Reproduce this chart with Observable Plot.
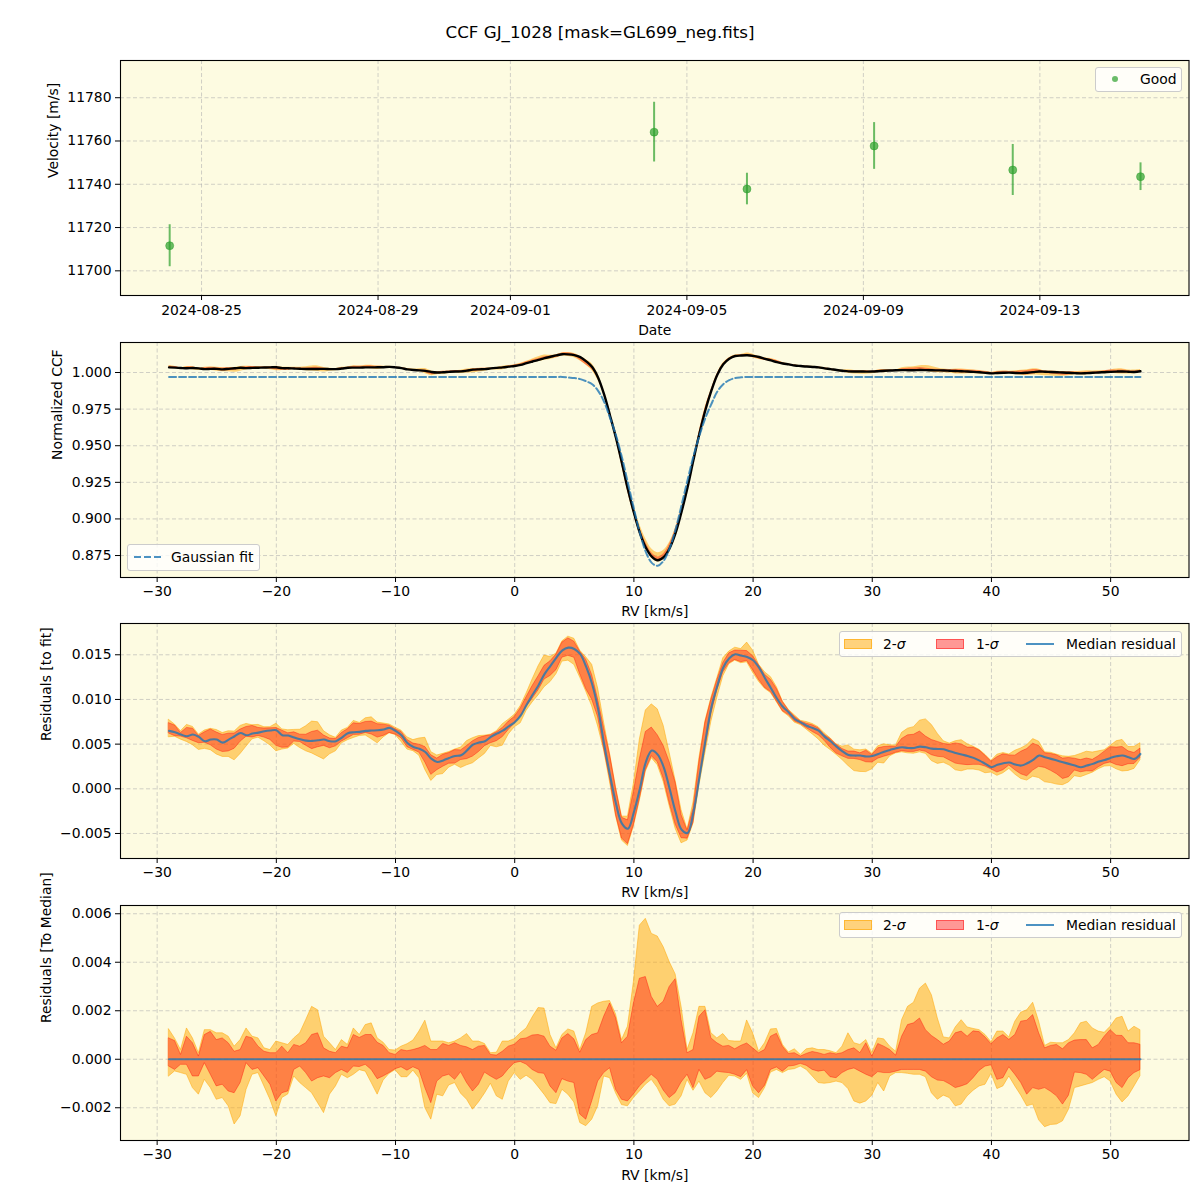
<!DOCTYPE html>
<html><head><meta charset="utf-8">
<script src="https://cdn.jsdelivr.net/npm/d3@7"></script>
<script src="https://cdn.jsdelivr.net/npm/@observablehq/plot@0.6"></script>
<style>
html,body{margin:0;padding:0;background:#fff;}
#fig{position:relative;width:1200px;height:1200px;font-family:"DejaVu Sans",sans-serif;color:#000;overflow:hidden;background:#fff;}
#fig > svg{position:absolute;left:0;}
.title{position:absolute;top:21px;left:0;width:1200px;text-align:center;font-size:16.7px;line-height:22px;}
.lg{position:absolute;background:rgba(255,255,255,0.8);border:1px solid #cccccc;border-radius:3px;box-sizing:border-box;}
.lt{position:absolute;font-size:13.9px;line-height:16px;white-space:nowrap;}
.sw{position:absolute;box-sizing:border-box;}
</style></head>
<body><div id="fig"><div class="title">CCF GJ_1028 [mask=GL699_neg.fits]</div></div>
<script>
// ---------- Panel 1: RV time series ----------
const obsDates = ["2024-08-24T06:40Z","2024-09-04T06:10Z","2024-09-06T08:40Z","2024-09-09T05:50Z","2024-09-12T09:15Z","2024-09-15T06:45Z"];
const obsVel = [11711.6, 11764.1, 11737.8, 11757.7, 11746.6, 11743.5];
const obsErr = [9.7, 13.8, 7.3, 10.8, 11.8, 6.4];
const dateTicks = ["2024-08-25","2024-08-29","2024-09-01","2024-09-05","2024-09-09","2024-09-13"];
const velTicks = [11700, 11720, 11740, 11760, 11780];

// ---------- RV grid (km/s) ----------
const rv = [
-29,-28.5,-28,-27.5,-27,-26.5,-26,-25.5,-25,-24.5,
-24,-23.5,-23,-22.5,-22,-21.5,-21,-20.5,-20,-19.5,
-19,-18.5,-18,-17.5,-17,-16.5,-16,-15.5,-15,-14.5,
-14,-13.5,-13,-12.5,-12,-11.5,-11,-10.5,-10,-9.5,
-9,-8.5,-8,-7.5,-7,-6.5,-6,-5.5,-5,-4.5,
-4,-3.5,-3,-2.5,-2,-1.5,-1,-0.5,0,0.5,
1,1.5,2,2.5,3,3.5,4,4.5,5,5.5,
6,6.5,7,7.5,8,8.5,9,9.5,10,10.5,
11,11.5,12,12.5,13,13.5,14,14.5,15,15.5,
16,16.5,17,17.5,18,18.5,19,19.5,20,20.5,
21,21.5,22,22.5,23,23.5,24,24.5,25,25.5,
26,26.5,27,27.5,28,28.5,29,29.5,30,30.5,
31,31.5,32,32.5,33,33.5,34,34.5,35,35.5,
36,36.5,37,37.5,38,38.5,39,39.5,40,40.5,
41,41.5,42,42.5,43,43.5,44,44.5,45,45.5,
46,46.5,47,47.5,48,48.5,49,49.5,50,50.5,
51,51.5,52,52.5];

// Gaussian fit (normalized CCF)
const gaussFit = [
0.997,0.997,0.997,0.997,0.997,0.997,0.997,0.997,0.997,0.997,
0.997,0.997,0.997,0.997,0.997,0.997,0.997,0.997,0.997,0.997,
0.997,0.997,0.997,0.997,0.997,0.997,0.997,0.997,0.997,0.997,
0.997,0.997,0.997,0.997,0.997,0.997,0.997,0.997,0.997,0.997,
0.997,0.997,0.997,0.997,0.997,0.997,0.997,0.997,0.997,0.997,
0.997,0.997,0.997,0.997,0.997,0.997,0.997,0.997,0.997,0.997,
0.997,0.997,0.997,0.997,0.997,0.997,0.997,0.9966,0.9962,0.9955,
0.9940,0.9920,0.9875,0.9800,0.9690,0.9570,0.9420,0.9245,0.9070,0.8905,
0.8775,0.8700,0.8680,0.8715,0.8800,0.8930,0.9095,0.9265,0.9430,0.9570,
0.9690,0.9785,0.9870,0.9920,0.9948,0.9962,0.9967,0.997,0.997,0.997,
0.997,0.997,0.997,0.997,0.997,0.997,0.997,0.997,0.997,0.997,
0.997,0.997,0.997,0.997,0.997,0.997,0.997,0.997,0.997,0.997,
0.997,0.997,0.997,0.997,0.997,0.997,0.997,0.997,0.997,0.997,
0.997,0.997,0.997,0.997,0.997,0.997,0.997,0.997,0.997,0.997,
0.997,0.997,0.997,0.997,0.997,0.997,0.997,0.997,0.997,0.997,
0.997,0.997,0.997,0.997,0.997,0.997,0.997,0.997,0.997,0.997,
0.997,0.997,0.997,0.997];

// Median residual to fit (x1e-3)
const resMed = [
6.48,6.33,6.07,5.88,6.07,5.81,5.32,5.51,5.51,5.17,
5.51,5.88,6.25,5.99,6.18,6.29,6.44,6.52,6.55,5.99,
5.96,5.73,5.54,5.39,5.36,5.43,5.51,5.32,5.32,5.73,
6.22,6.33,6.37,6.48,6.52,6.55,6.63,6.82,6.48,5.99,
5.13,4.68,4.49,4.12,3.37,3.00,3.18,3.45,3.67,3.75,
4.30,4.94,5.17,5.32,5.81,6.18,6.50,7.00,7.45,8.18,
9.41,10.52,11.60,12.83,13.75,14.68,15.50,15.80,15.65,15.06,
13.64,11.71,8.92,5.02,1.49,-1.67,-3.90,-4.46,-2.60,0.00,
2.97,4.28,3.83,2.42,0.00,-2.60,-4.57,-4.94,-2.60,1.30,
5.39,9.11,11.52,13.57,14.61,15.06,14.91,14.76,14.39,13.57,
12.38,11.26,10.11,9.18,8.55,7.81,7.43,7.06,6.80,6.51,
5.84,5.32,4.72,4.20,3.79,3.72,3.72,3.61,3.68,3.90,
4.16,4.35,4.54,4.65,4.57,4.57,4.72,4.65,4.50,4.46,
4.42,4.20,4.01,3.83,3.68,3.46,3.16,2.79,2.42,2.68,
2.86,2.94,2.71,2.60,2.86,3.23,3.72,3.53,3.35,3.16,
2.97,2.79,2.60,2.42,2.60,2.79,3.05,3.23,3.46,3.64,
3.72,3.53,3.35,3.90];

// Percentile offsets relative to the median (x1e-3)
const hi2 = [
1.23,0.85,0.38,1.27,0.86,0.25,1.20,1.20,1.07,1.07,
0.93,0.52,0.79,1.27,0.93,0.86,0.45,0.38,0.73,0.66,
0.59,0.86,1.07,1.61,2.16,2.02,0.93,0.66,0.38,0.79,
0.59,1.27,1.00,1.41,1.48,0.86,0.68,0.38,0.36,0.52,
0.62,0.77,1.14,1.59,0.73,0.73,0.73,0.66,0.73,0.86,
1.04,0.73,0.73,0.63,0.25,0.27,0.73,0.73,0.83,1.07,
1.27,1.72,2.11,2.09,1.00,0.45,1.00,1.23,1.14,0.38,
1.07,2.16,2.30,2.37,2.40,1.85,0.79,1.34,3.19,5.51,
5.79,5.17,5.06,4.62,4.01,3.50,2.16,0.38,1.07,2.16,
2.16,1.07,0.86,1.04,0.75,0.73,0.73,1.60,1.07,0.31,
0.66,1.23,1.25,0.59,0.28,0.41,0.18,0.41,0.45,0.38,
0.38,0.33,0.25,0.52,1.07,0.66,0.59,0.79,0.25,0.86,
0.82,0.52,0.31,1.61,2.16,2.33,2.91,3.12,2.64,1.68,
0.90,0.86,1.31,1.61,1.31,1.25,1.20,1.00,0.70,1.14,
1.14,0.90,1.55,1.92,2.02,2.33,1.55,0.55,0.68,0.66,
0.66,0.79,1.07,1.48,1.55,1.27,1.14,1.09,1.34,1.68,
1.75,1.14,1.34,1.20];
const hi1 = [
0.86,0.75,0.18,0.93,0.66,0.11,1.00,1.13,0.79,0.86,
0.66,0.31,0.38,0.93,0.86,0.52,0.31,0.25,0.25,0.52,
0.25,0.59,0.52,0.66,1.00,1.07,0.45,0.31,0.25,0.52,
0.45,1.00,0.88,1.00,1.00,0.68,0.55,0.25,0.18,0.38,
0.33,0.38,0.45,0.55,0.38,0.38,0.63,0.55,0.66,0.55,
0.49,0.38,0.52,0.55,0.18,0.15,0.31,0.52,0.60,0.82,
0.86,0.98,1.00,0.93,0.52,0.35,0.86,1.04,0.82,0.27,
0.79,1.00,1.07,1.75,2.30,1.70,0.66,0.93,2.30,3.32,
3.39,2.57,2.16,2.37,2.98,3.30,1.61,0.25,0.38,1.75,
2.02,0.86,0.66,0.52,0.55,0.41,0.55,0.65,0.45,0.25,
0.38,0.93,1.05,0.52,0.22,0.25,0.11,0.22,0.30,0.25,
0.18,0.25,0.20,0.25,0.38,0.45,0.25,0.66,0.11,0.63,
0.52,0.38,0.15,0.93,1.41,1.48,1.68,1.20,0.96,0.79,
0.60,0.73,1.07,1.14,0.93,1.15,1.12,0.90,0.62,0.86,
1.00,0.80,1.00,1.55,1.59,1.82,1.07,0.45,0.55,0.59,
0.41,0.66,0.77,0.79,0.79,0.45,0.59,0.93,1.20,0.97,
0.96,0.66,0.66,0.60];
const lo1 = [
-0.30,-0.44,-0.23,-0.23,-0.71,-0.71,-0.16,-0.64,-1.12,-1.05,
-1.33,-1.40,-0.98,-0.16,-0.44,-0.37,-0.71,-1.05,-1.74,-1.40,
-1.33,-0.44,-0.30,-0.57,-0.92,-0.78,-0.71,-0.78,-0.57,-0.44,
-0.57,-0.30,-0.32,-0.23,-0.44,-0.82,-0.71,-0.57,-0.41,-0.33,
-0.47,-0.33,-0.44,-1.19,-1.81,-0.92,-0.71,-0.64,-0.85,-0.53,
-0.98,-1.33,-1.05,-0.55,-0.71,-0.85,-0.71,-0.41,-0.16,-0.11,
-0.22,-0.44,-0.57,-0.60,-1.12,-1.40,-0.82,-0.92,-0.98,-2.28,
-2.49,-1.74,-0.92,-0.57,-0.37,-1.26,-1.67,-1.74,-1.45,-1.12,
-0.88,-0.64,-0.85,-1.29,-1.60,-1.40,-0.96,-0.64,-1.19,-0.44,
-0.85,-0.74,-0.51,-0.55,-0.57,-0.64,-0.74,-0.45,-1.12,-1.40,
-1.09,-0.44,-0.34,-0.51,-0.30,-0.27,-0.19,-0.27,-0.44,-0.51,
-0.47,-0.74,-0.78,-0.57,-0.44,-0.38,-0.51,-0.64,-0.74,-0.53,
-0.57,-0.57,-0.51,-0.44,-0.44,-0.44,-0.44,-0.51,-0.74,-0.88,
-0.90,-1.03,-1.19,-1.12,-1.03,-0.78,-0.48,-0.30,-0.25,-0.85,
-0.78,-0.33,-0.64,-0.98,-1.46,-1.19,-1.26,-1.19,-1.34,-1.53,
-1.87,-1.50,-0.55,-0.57,-0.64,-0.85,-0.64,-0.44,-0.51,-0.98,
-1.19,-0.78,-0.57,-0.45];
const lo2 = [
-0.71,-0.50,-0.57,-0.64,-1.19,-1.46,-0.85,-1.19,-1.67,-1.60,
-1.94,-2.69,-2.35,-1.26,-0.64,-0.57,-1.12,-1.67,-2.35,-1.60,
-1.45,-0.71,-0.98,-1.19,-1.40,-1.81,-2.22,-1.46,-1.12,-0.64,
-0.78,-0.64,-0.45,-0.51,-0.98,-1.46,-0.88,-0.60,-0.45,-0.74,
-0.74,-0.47,-0.78,-2.01,-2.49,-1.46,-1.53,-1.08,-0.98,-1.42,
-1.67,-2.08,-1.78,-1.42,-1.01,-1.53,-1.67,-0.92,-0.57,-0.85,
-0.68,-0.85,-1.15,-1.46,-1.81,-1.85,-1.26,-1.46,-1.78,-2.63,
-2.76,-2.49,-1.94,-0.71,-0.78,-1.40,-1.89,-1.94,-1.60,-1.33,
-1.05,-0.85,-1.19,-1.67,-1.94,-1.87,-1.53,-0.85,-1.30,-0.92,
-1.40,-1.60,-1.33,-0.98,-0.68,-0.71,-0.85,-0.60,-1.40,-1.60,
-1.19,-0.55,-0.44,-0.57,-0.44,-0.41,-0.30,-0.44,-0.71,-0.98,
-1.01,-0.98,-0.92,-0.98,-1.23,-1.74,-1.83,-1.74,-1.50,-0.98,
-1.33,-0.71,-0.57,-0.57,-0.60,-0.64,-0.64,-0.74,-1.40,-1.67,
-1.50,-1.60,-1.94,-1.87,-1.53,-1.30,-1.12,-1.05,-0.60,-1.23,
-1.12,-0.71,-1.12,-1.50,-1.94,-1.87,-2.52,-2.80,-2.71,-2.69,
-2.56,-2.08,-1.19,-1.12,-1.05,-0.98,-0.85,-0.74,-0.92,-1.46,
-1.78,-1.53,-1.12,-0.70];

const rvTicks = [-30,-20,-10,0,10,20,30,40,50];
const ccfTicks = [0.875,0.900,0.925,0.950,0.975,1.000];
const resTicks = [-0.005,0,0.005,0.010,0.015];
const medTicks = [-0.002,0,0.002,0.004,0.006];

// ---------- build tables ----------
const obs = obsDates.map((d,i)=>({date:new Date(d), v:obsVel[i], e:obsErr[i]}));
const rows = rv.map((v,i)=>{
  const med = resMed[i]/1000;
  const ccf = gaussFit[i] + med; // CCF median = fit + median residual
  return {rv:v, fit:gaussFit[i], med, ccf,
    lo2:lo2[i]/1000, lo1:lo1[i]/1000, hi1:hi1[i]/1000, hi2:hi2[i]/1000};
});

const BG = "#fdfbe1", GRID = "#b0b0b0";
const fig = document.getElementById("fig");
const fmt3 = d3.format(".3f");

function panel({top, x, y, xTicks, yTicks, xFmt, yFmt, marks, xlabel, ylabel, ylabelDx, xlabelDy, tickPad}) {
  const mt = 10, mb = 45, h = 235;
  const chart = Plot.plot({
    width: 1200, height: h + mt + mb,
    marginLeft: 120, marginRight: 11.5, marginTop: mt, marginBottom: mb,
    style: {background: "transparent", fontFamily: "DejaVu Sans", fontSize: "13.9px", color: "#000", overflow: "visible"},
    x: {...x, label: null},
    y: {...y, label: null},
    marks: [
      Plot.frame({fill: BG, stroke: null}),
      Plot.gridX(xTicks, {stroke: GRID, strokeOpacity: 0.65, strokeDasharray: "4,2.5", strokeWidth: 0.9}),
      Plot.gridY(yTicks, {stroke: GRID, strokeOpacity: 0.65, strokeDasharray: "4,2.5", strokeWidth: 0.9}),
      ...marks,
      Plot.frame({stroke: "#000", strokeWidth: 1.1}),
      Plot.axisX(xTicks, {tickFormat: xFmt, tickSize: 5, tickPadding: tickPad, label: null}),
      Plot.axisY(yTicks, {tickFormat: yFmt, tickSize: 5, tickPadding: 4, label: null}),
      Plot.text([xlabel], {frameAnchor: "bottom", dy: xlabelDy}),
      Plot.text([ylabel], {frameAnchor: "left", rotate: -90, dx: ylabelDx})
    ]
  });
  chart.style.top = (top - mt) + "px";
  fig.appendChild(chart);
}

// Panel 1
panel({
  top: 60,
  x: {type: "utc", domain: [new Date("2024-08-23T03:55Z"), new Date("2024-09-16T09:07Z")]},
  y: {domain: [11688.6, 11797.2]},
  xTicks: dateTicks.map(d => new Date(d + "T00:00Z")), yTicks: velTicks,
  xFmt: d3.utcFormat("%Y-%m-%d"), yFmt: d3.format("d"),
  marks: [
    Plot.ruleX(obs, {x: "date", y1: d => d.v - d.e, y2: d => d.v + d.e, stroke: "#2ca02c", strokeOpacity: 0.7, strokeWidth: 2}),
    Plot.dot(obs, {x: "date", y: "v", r: 4, fill: "#2ca02c", fillOpacity: 0.7, stroke: "#2ca02c", strokeOpacity: 0.5, strokeWidth: 1})
  ],
  xlabel: "Date", ylabel: "Velocity [m/s]", ylabelDx: -67, xlabelDy: 39, tickPad: 5
});

const rvX = {domain: [-33.075, 56.575]};
// Panel 2
panel({
  top: 342, x: rvX, y: {domain: [0.860, 1.0205]},
  xTicks: rvTicks, yTicks: ccfTicks, xFmt: d3.format("d"), yFmt: fmt3,
  marks: [
    Plot.areaY(rows, {x: "rv", y1: d => d.ccf + d.lo2, y2: d => d.ccf + d.hi2, fill: "orange", fillOpacity: 0.5, curve: "catmull-rom"}),
    Plot.areaY(rows, {x: "rv", y1: d => d.ccf + d.lo1, y2: d => d.ccf + d.hi1, fill: "red", fillOpacity: 0.38, curve: "catmull-rom"}),
    Plot.lineY(rows, {x: "rv", y: "ccf", stroke: "#000", strokeWidth: 2.4, curve: "catmull-rom"}),
    Plot.lineY(rows, {x: "rv", y: "fit", stroke: "#1f77b4", strokeOpacity: 0.8, strokeWidth: 2, strokeDasharray: "7,3", curve: "catmull-rom"})
  ],
  xlabel: "RV [km/s]", ylabel: "Normalized CCF", ylabelDx: -63, xlabelDy: 38, tickPad: 4
});

// Panel 3
panel({
  top: 623, x: rvX, y: {domain: [-0.0078, 0.0185]},
  xTicks: rvTicks, yTicks: resTicks, xFmt: d3.format("d"), yFmt: fmt3,
  marks: [
    Plot.areaY(rows, {x: "rv", y1: d => d.med + d.lo2, y2: d => d.med + d.hi2, fill: "orange", fillOpacity: 0.5, stroke: "orange", strokeOpacity: 0.5, strokeWidth: 1}),
    Plot.areaY(rows, {x: "rv", y1: d => d.med + d.lo1, y2: d => d.med + d.hi1, fill: "red", fillOpacity: 0.38, stroke: "red", strokeOpacity: 0.38, strokeWidth: 1}),
    Plot.lineY(rows, {x: "rv", y: "med", stroke: "#1f77b4", strokeOpacity: 0.8, strokeWidth: 2.1, curve: "catmull-rom"})
  ],
  xlabel: "RV [km/s]", ylabel: "Residuals [to fit]", ylabelDx: -74, xlabelDy: 38, tickPad: 4
});

// Panel 4
panel({
  top: 905, x: rvX, y: {domain: [-0.00335, 0.00634]},
  xTicks: rvTicks, yTicks: medTicks, xFmt: d3.format("d"), yFmt: fmt3,
  marks: [
    Plot.areaY(rows, {x: "rv", y1: "lo2", y2: "hi2", fill: "orange", fillOpacity: 0.5, stroke: "orange", strokeOpacity: 0.5, strokeWidth: 1}),
    Plot.areaY(rows, {x: "rv", y1: "lo1", y2: "hi1", fill: "red", fillOpacity: 0.38, stroke: "red", strokeOpacity: 0.38, strokeWidth: 1}),
    Plot.lineY(rows, {x: "rv", y: () => 0, stroke: "#1f77b4", strokeOpacity: 0.8, strokeWidth: 2.1})
  ],
  xlabel: "RV [km/s]", ylabel: "Residuals [To Median]", ylabelDx: -74, xlabelDy: 39, tickPad: 4
});

// ---------- legends (HTML) ----------
function el(cls, css, html) {
  const d = document.createElement("div");
  d.className = cls;
  Object.assign(d.style, css);
  if (html != null) d.innerHTML = html;
  fig.appendChild(d);
  return d;
}
function svgLine(x1, x2, y, color, dash, op) {
  const ns = "http://www.w3.org/2000/svg";
  const s = document.createElementNS(ns, "svg");
  s.setAttribute("width", x2 - x1); s.setAttribute("height", 6);
  s.style.position = "absolute"; s.style.left = x1 + "px"; s.style.top = (y - 3) + "px";
  const l = document.createElementNS(ns, "line");
  l.setAttribute("x1", 0); l.setAttribute("x2", x2 - x1); l.setAttribute("y1", 3); l.setAttribute("y2", 3);
  l.setAttribute("stroke", color); l.setAttribute("stroke-width", 2); l.setAttribute("stroke-opacity", op);
  if (dash) l.setAttribute("stroke-dasharray", dash);
  s.appendChild(l); fig.appendChild(s);
}
// Panel 1 legend
el("lg", {left: "1095px", top: "67px", width: "87px", height: "25px"});
el("sw", {left: "1112px", top: "76px", width: "6px", height: "6px", borderRadius: "50%", background: "rgba(44,160,44,0.7)"});
el("lt", {left: "1140px", top: "71px"}, "Good");
// Panel 2 legend
el("lg", {left: "127px", top: "544px", width: "133px", height: "27px"});
svgLine(134, 162, 557, "#1f77b4", "7,3", 0.8);
el("lt", {left: "171px", top: "549px"}, "Gaussian fit");
// Panel 3 & 4 legends
function sigmaLegend(top) {
  el("lg", {left: "839px", top: top + "px", width: "343px", height: "26px"});
  const cy = top + 12.5;
  el("sw", {left: "844px", top: (cy - 5) + "px", width: "28px", height: "10px", background: "rgba(255,165,0,0.5)", border: "1px solid rgba(255,165,0,0.6)"});
  el("lt", {left: "883px", top: (cy - 8) + "px"}, "2-<i>σ</i>");
  el("sw", {left: "936px", top: (cy - 5) + "px", width: "28px", height: "10px", background: "rgba(255,0,0,0.4)", border: "1px solid rgba(255,0,0,0.45)"});
  el("lt", {left: "976px", top: (cy - 8) + "px"}, "1-<i>σ</i>");
  svgLine(1026, 1054, cy, "#1f77b4", null, 0.8);
  el("lt", {left: "1066px", top: (cy - 8) + "px"}, "Median residual");
}
sigmaLegend(631);
sigmaLegend(912);
</script>
</body></html>
